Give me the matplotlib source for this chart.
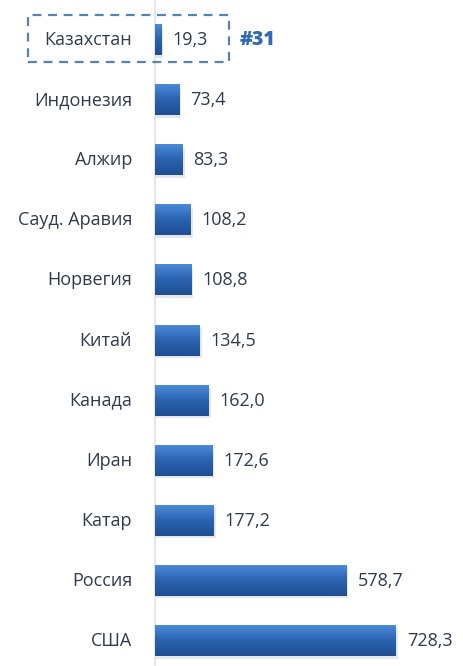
import matplotlib.pyplot as plt
import numpy as np
from matplotlib.colors import LinearSegmentedColormap
from matplotlib.patches import Rectangle

# data, bottom to top
countries = ['США', 'Россия', 'Катар', 'Иран', 'Канада', 'Китай',
             'Норвегия', 'Сауд. Аравия', 'Алжир', 'Индонезия', 'Казахстан']
values = [728.3, 578.7, 177.2, 172.6, 162.0, 134.5,
          108.8, 108.2, 83.3, 73.4, 19.3]
rank_label = '#31'

plt.rcParams['font.family'] = ['Open Sans', 'DejaVu Sans']

W, H = 463, 666
fig = plt.figure(figsize=(W / 100, H / 100), dpi=100)
ax_left = 155 / W
ax = fig.add_axes([ax_left, 0, 1 - ax_left, 1])

px_per_unit = 241 / 728.3
step = 60.1
xlim = (0, (W - 155) / px_per_unit)
ylim = (-(H - 641) / step, len(countries) - 1 + 40 / step)

y = np.arange(len(countries))
# soft shadow under the bars
ax.barh(y - 2.5 / step, np.array(values) + 2 / px_per_unit, height=0.5,
        color='#b8bcc4', alpha=0.35, zorder=1)
bars = ax.barh(y, values, height=0.5, color='#3371c4', zorder=2)

# vertical gradient on each bar: lighter on top, darker at the bottom
cmap = LinearSegmentedColormap.from_list('bar', ['#4a8ad8', '#2a62b0', '#1f4f92'])
grad = np.linspace(0, 1, 64).reshape(-1, 1)
for b in bars:
    x0, y0, w, h = b.get_x(), b.get_y(), b.get_width(), b.get_height()
    ax.imshow(grad, cmap=cmap, aspect='auto', extent=(x0, x0 + w, y0, y0 + h),
              zorder=3, interpolation='bilinear')
ax.set_xlim(*xlim)
ax.set_ylim(*ylim)

for i, (name, v) in enumerate(zip(countries, values)):
    ax.text(-23 / px_per_unit, i, name, ha='right', va='center',
            fontsize=13, color='#2f3b4c', clip_on=False)
    ax.text(v + 11 / px_per_unit, i, f'{v:.1f}'.replace('.', ','), ha='left',
            va='center', fontsize=13, color='#2f3b4c')

for s in ['top', 'right', 'bottom']:
    ax.spines[s].set_visible(False)
ax.spines['left'].set_color('#dde2ea')
ax.spines['left'].set_linewidth(1.2)
ax.set_xticks([])
ax.set_yticks([])
ax.patch.set_alpha(0)

# dashed highlight box around Kazakhstan
fig.patches.append(Rectangle((28 / W, 1 - 62 / H), 201 / W, 47 / H,
                             transform=fig.transFigure, fill=False,
                             edgecolor='#5a80b5', linewidth=1.6,
                             linestyle=(0, (4, 3))))
fig.text(240 / W, 1 - 40 / H, rank_label, ha='left', va='center',
         fontsize=14, fontweight='heavy', color='#2e6bb8')

fig.savefig('out.png', dpi=100)
